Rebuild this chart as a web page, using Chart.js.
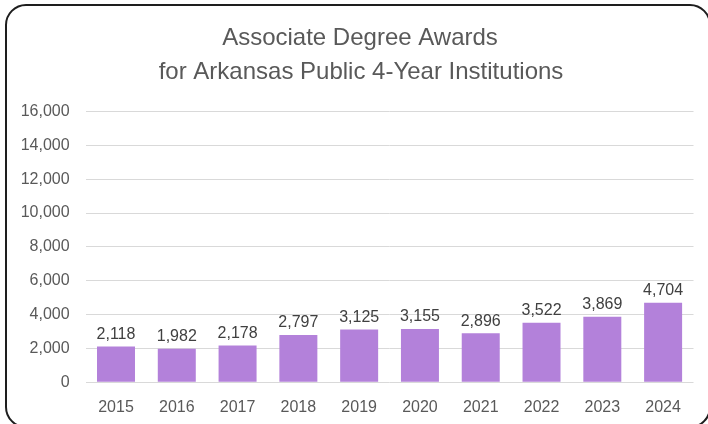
<!DOCTYPE html>
<html>
<head>
<meta charset="utf-8">
<script src="https://cdn.jsdelivr.net/npm/chart.js@4.4.1/dist/chart.umd.min.js"></script>
<style>
  html, body { margin: 0; padding: 0; background: #ffffff; overflow: hidden; }
  #wrap { position: relative; width: 708px; height: 424px; }
  #frame { position: absolute; left: 5px; top: 4px; width: 706px; height: 424px;
           border: 2.5px solid #1e1e1e; border-radius: 21px; box-sizing: border-box; }
  canvas { position: absolute; left: 0; top: 0; }
</style>
</head>
<body>
<div id="wrap">
  <div id="frame"></div>
  <canvas id="c" width="708" height="424"></canvas>
</div>
<script>
const titleLines = ["Associate Degree Awards", "for Arkansas Public 4-Year Institutions"];
const categories = ["2015", "2016", "2017", "2018", "2019", "2020", "2021", "2022", "2023", "2024"];
const awards = [2118, 1982, 2178, 2797, 3125, 3155, 2896, 3522, 3869, 4704];
const yMin = 0;
const yMax = 16000;
const yStep = 2000;

const fmt = v => v.toLocaleString('en-US');

const titlePlugin = {
  id: 'customTitle',
  afterDraw(chart) {
    const ctx = chart.ctx;
    ctx.save();
    ctx.font = '24px "Liberation Sans", Arial, sans-serif';
    ctx.fillStyle = '#595959';
    ctx.textAlign = 'center';
    ctx.textBaseline = 'middle';
    ctx.fillText(titleLines[0], 360, 38);
    ctx.fillText(titleLines[1], 361, 72);
    ctx.restore();
  }
};

const labelPlugin = {
  id: 'barLabels',
  afterDatasetsDraw(chart) {
    const ctx = chart.ctx;
    const meta = chart.getDatasetMeta(0);
    ctx.save();
    ctx.font = '16px "Liberation Sans", Arial, sans-serif';
    ctx.fillStyle = '#404040';
    ctx.textAlign = 'center';
    ctx.textBaseline = 'alphabetic';
    meta.data.forEach((bar, i) => {
      ctx.fillText(fmt(awards[i]), bar.x, bar.y - 7.5);
    });
    ctx.restore();
  }
};

new Chart(document.getElementById('c'), {
  type: 'bar',
  data: {
    labels: categories,
    datasets: [{
      data: awards,
      backgroundColor: '#b381da',
      borderWidth: 0,
      barPercentage: 0.625,
      categoryPercentage: 1.0
    }]
  },
  options: {
    responsive: false,
    animation: false,
    devicePixelRatio: 1,
    layout: { padding: { top: 111.5, right: 14.5, bottom: 0, left: 0 } },
    plugins: {
      legend: { display: false },
      title: { display: false },
      tooltip: { enabled: false }
    },
    scales: {
      x: {
        grid: { display: false, drawTicks: false },
        border: { display: false },
        ticks: {
          color: '#595959',
          font: { family: '"Liberation Sans", Arial, sans-serif', size: 16 },
          padding: 15.5
        },
        afterFit(scale) { scale.height = 41.7; }
      },
      y: {
        min: yMin,
        max: yMax,
        grid: { color: '#d9d9d9', lineWidth: 1, drawTicks: false },
        border: { display: false },
        ticks: {
          stepSize: yStep,
          color: '#595959',
          font: { family: '"Liberation Sans", Arial, sans-serif', size: 16 },
          padding: 16,
          callback: v => fmt(v)
        },
        afterFit(scale) { scale.width = 85.6; }
      }
    }
  },
  plugins: [titlePlugin, labelPlugin]
});
</script>
</body>
</html>
